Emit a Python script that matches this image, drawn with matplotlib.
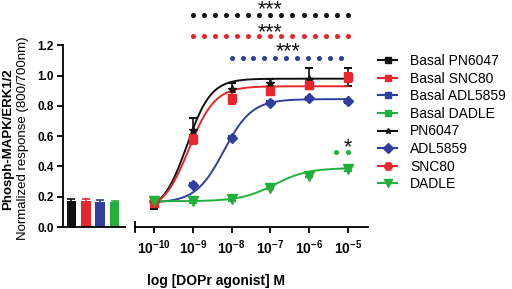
import numpy as np
import matplotlib
matplotlib.use("Agg")
import matplotlib.pyplot as plt
from matplotlib.lines import Line2D

plt.rcParams['font.family'] = ['Liberation Sans', 'DejaVu Sans']
plt.rcParams['mathtext.fontset'] = 'custom'
plt.rcParams['mathtext.bf'] = 'Liberation Sans:bold'
plt.rcParams['mathtext.rm'] = 'Liberation Sans'

# kleuren
black = '#111111'
red = '#e8262b'
blue = '#2e3f9e'
green = '#22b03a'

# basale waarden (linker paneel)
basal_labels = ['Basal PN6047', 'Basal SNC80', 'Basal ADL5859', 'Basal DADLE']
basal_values = [0.17, 0.17, 0.165, 0.165]
basal_err = [0.015, 0.012, 0.015, 0.006]
basal_colors = [black, red, blue, green]

# concentratie-respons (rechter paneel)
log_conc = [-10, -9, -8, -7, -6, -5]
pn6047 = [0.16, 0.64, 0.91, 0.95, 0.98, 0.99]
pn6047_err = [0.04, 0.08, 0.04, 0.03, 0.07, 0.06]
snc80 = [0.16, 0.58, 0.85, 0.90, 0.94, 0.99]
snc80_err = [0.02, 0.03, 0.04, 0.03, 0.03, 0.03]
adl5859 = [0.17, 0.28, 0.59, 0.82, 0.85, 0.83]
adl5859_err = [0.01, 0.01, 0.01, 0.01, 0.01, 0.01]
dadle = [0.17, 0.17, 0.185, 0.26, 0.34, 0.38]
dadle_err = [0.01, 0.01, 0.01, 0.01, 0.01, 0.01]

# fitparameters (bottom, top, logEC50, hill)
fit_pn6047 = [0.10, 0.98, -9.15, 1.4]
fit_snc80 = [0.10, 0.93, -9.10, 1.3]
fit_adl5859 = [0.16, 0.845, -8.2, 1.2]
fit_dadle = [0.17, 0.39, -6.9, 1.0]

# significantie rijen: start, eind, aantal punten, hoogte, kleur, sterren
sig_start = [-9, -9, -8, -5.31]
sig_stop = [-5, -5, -5.17, -5.0]
sig_ndots = [15, 15, 11, 2]
sig_y = [1.40, 1.26, 1.12, 0.495]
sig_colors = [black, red, blue, green]
sig_text = ['***', '***', '***', '*']
sig_text_x = [-7, -7, -6.55, -5.0]
sig_text_y = [1.40, 1.25, 1.125, 0.49]


def logistic(x, p):
    bottom, top, ec50, hill = p
    return bottom + (top - bottom) / (1 + 10 ** ((ec50 - x) * hill))


fig = plt.figure(figsize=(5.12, 2.89), dpi=100)
ax1 = fig.add_axes([63 / 512, 62 / 289, 62 / 512, 227 / 289])
ax2 = fig.add_axes([135 / 512, 62 / 289, 233 / 512, 227 / 289])

ymax = 1.5

# linker paneel
xb = np.arange(len(basal_values))
ax1.bar(xb, basal_values, width=0.66, color=basal_colors)
for i in range(len(xb)):
    ax1.errorbar(xb[i], basal_values[i], yerr=basal_err[i], color=basal_colors[i],
                 capsize=3, lw=1.2, capthick=1.2, fmt='none')
ax1.set_xlim(-0.59, 3.73)
ax1.set_ylim(0, ymax)
ax1.set_yticks([0, 0.2, 0.4, 0.6, 0.8, 1.0, 1.2])
ax1.set_yticklabels(['0.0', '0.2', '0.4', '0.6', '0.8', '1.0', '1.2'],
                    fontweight='bold', fontsize=8.5)
ax1.spines['left'].set_bounds(0, 1.2)
ax1.spines['top'].set_visible(False)
ax1.spines['right'].set_visible(False)
ax1.spines['left'].set_linewidth(1.3)
ax1.spines['bottom'].set_linewidth(1.3)
ax1.set_xticks([])
ax1.tick_params(axis='y', length=4.5, width=1.3, pad=2)
ax1.patch.set_alpha(0)
fig.text(8 / 512, 0.52, 'Phosph-MAPK/ERK1/2', rotation=90, fontweight='bold',
         fontsize=9.5, ha='center', va='center')
fig.text(23 / 512, 0.52, 'Normalized response (800/700nm)', rotation=90,
         fontsize=9.5, ha='center', va='center')

# rechter paneel
xs = np.linspace(-10, -5, 200)
series = [
    (pn6047, pn6047_err, fit_pn6047, black, '*', 6),
    (adl5859, adl5859_err, fit_adl5859, blue, 'D', 5),
    (snc80, snc80_err, fit_snc80, red, 's', 5.5),
    (dadle, dadle_err, fit_dadle, green, 'v', 6.5),
]
for vals, errs, fit, col, mk, ms in series:
    ax2.plot(xs, logistic(xs, fit), color=col, lw=1.4)
    ax2.errorbar(log_conc, vals, yerr=errs, fmt=mk, color=col, ms=ms,
                 capsize=3, lw=1.2, capthick=1.5)

for i in range(len(sig_y)):
    xd = np.linspace(sig_start[i], sig_stop[i], sig_ndots[i])
    ax2.plot(xd, [sig_y[i]] * len(xd), 'o', color=sig_colors[i], ms=2.6)
    ax2.text(sig_text_x[i], sig_text_y[i], sig_text[i], ha='center', va='baseline',
             fontsize=15.5, color=black, clip_on=False)

ax2.set_xlim(-10.49, -4.48)
ax2.set_ylim(0, ymax)
ax2.set_xticks(log_conc)
ax2.set_xticklabels([r'$\mathbf{10^{%d}}$' % v for v in log_conc], fontsize=10)
ax2.tick_params(axis='x', length=4, width=1.3, pad=4)
ax2.tick_params(axis='y', left=False, labelleft=False)
ax2.spines['top'].set_visible(False)
ax2.spines['right'].set_visible(False)
ax2.spines['left'].set_bounds(-0.03, 0.03)
ax2.spines['left'].set_linewidth(1.3)
ax2.spines['bottom'].set_linewidth(1.3)
ax2.set_yticks([])
ax2.patch.set_alpha(0)
fig.text(216 / 512, 1 - 281 / 289, 'log [DOPr agonist] M', fontweight='bold',
         fontsize=10, ha='center', va='center')

# legenda
handles = [
    Line2D([], [], color=black, marker='s', ms=5),
    Line2D([], [], color=red, marker='s', ms=5),
    Line2D([], [], color=blue, marker='s', ms=5),
    Line2D([], [], color=green, marker='s', ms=5),
    Line2D([], [], color=black, marker='*', ms=4),
    Line2D([], [], color=blue, marker='D', ms=5),
    Line2D([], [], color=red, marker='H', ms=6),
    Line2D([], [], color=green, marker='v', ms=6),
]
labels = basal_labels + ['PN6047', 'ADL5859', 'SNC80', 'DADLE']
fig.legend(handles, labels, loc='upper left', bbox_to_anchor=(378 / 512, 1 - 54 / 289),
           frameon=False, fontsize=10, handlelength=1.4, handletextpad=0.9,
           labelspacing=0.26, borderaxespad=0, borderpad=0)

fig.savefig('out.png', dpi=100)
